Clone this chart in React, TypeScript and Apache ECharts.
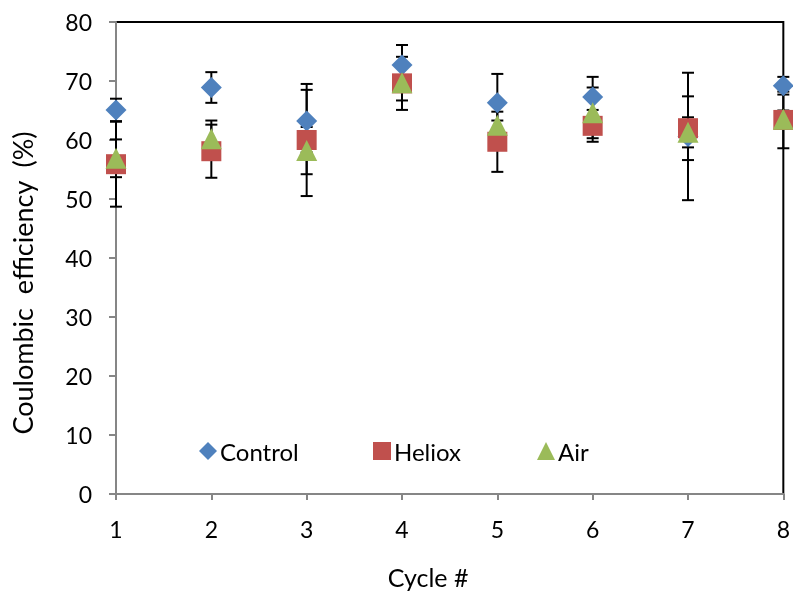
import React, { useEffect, useRef } from "react";
import * as echarts from "echarts";

const cycles = [1, 2, 3, 4, 5, 6, 7, 8];
const controlVals = [65.1, 68.9, 63.2, 72.7, 66.3, 67.3, 60.6, 69.2];
const controlErr = [1.9, 2.6, 5.3, 3.4, 4.9, 3.4, 10.8, 1.5];
const helioxVals = [55.9, 58.1, 60.0, 69.6, 59.7, 62.4, 62.0, 63.4];
const helioxErr = [7.2, 4.5, 9.5, 4.5, 5.1, 2.7, 5.4, 4.8];
const airVals = [56.9, 60.2, 58.2, 69.7, 62.5, 64.6, 61.3, 63.5];
const airErr = [3.2, 3.1, 4.0, 3.0, 0.8, 4.3, 2.55, 1.5];
const yTicks = [0, 10, 20, 30, 40, 50, 60, 70, 80];

const FONT = "Lato, 'Liberation Sans Narrow', sans-serif";

function errSeries(name: string, vals: number[], errs: number[]) {
  return {
    type: "custom",
    name: name + " err",
    z: 1,
    silent: true,
    data: cycles.map((c, i) => [c, vals[i] - errs[i], vals[i] + errs[i]]),
    renderItem: (params: any, api: any) => {
      const x = api.value(0);
      const lo = api.coord([x, api.value(1)]);
      const hi = api.coord([x, api.value(2)]);
      const hw = 6;
      const style = { stroke: "#000", lineWidth: 2 };
      return {
        type: "group",
        children: [
          { type: "line", shape: { x1: lo[0], y1: lo[1], x2: hi[0], y2: hi[1] }, style },
          { type: "line", shape: { x1: lo[0] - hw, y1: lo[1], x2: lo[0] + hw, y2: lo[1] }, style },
          { type: "line", shape: { x1: hi[0] - hw, y1: hi[1], x2: hi[0] + hw, y2: hi[1] }, style },
        ],
      };
    },
  };
}

export default function App() {
  const ref = useRef<HTMLDivElement>(null);
  useEffect(() => {
    if (!ref.current) return;
    const chart = echarts.init(ref.current, null, { renderer: "svg" });
    const legendBase = {
      top: 434,
      itemWidth: 18,
      itemHeight: 18,
      itemGap: 4,
      textStyle: { fontFamily: FONT, fontSize: 24, color: "#000", padding: [0, 0, 0, -2] },
    };
    chart.setOption({
      animation: false,
      textStyle: { fontFamily: FONT },
      grid: {
        left: 116,
        right: 9,
        top: 22,
        bottom: 100,
        show: true,
        borderColor: "#000",
        borderWidth: 2,
        backgroundColor: "transparent",
      },
      legend: [
        { ...legendBase, left: 194, data: [{ name: "Control", icon: "diamond" }] },
        { ...legendBase, left: 368, data: [{ name: "Heliox", icon: "rect" }] },
        { ...legendBase, left: 532, data: [{ name: "Air", icon: "triangle" }] },
      ],
      graphic: [
        {
          type: "text",
          x: 428,
          y: 577,
          style: {
            text: "Cycle #",
            fontFamily: FONT,
            fontSize: 25,
            fill: "#000",
            align: "center",
            verticalAlign: "middle",
          },
        },
        {
          type: "text",
          x: 22,
          y: 283,
          rotation: Math.PI / 2,
          style: {
            text: "Coulombic  efficiency  (%)",
            fontFamily: FONT,
            fontSize: 27,
            fill: "#000",
            align: "center",
            verticalAlign: "middle",
          },
        },
      ],
      xAxis: {
        type: "value",
        min: 1,
        max: 8,
        interval: 1,
        axisLine: { show: true, lineStyle: { color: "#868686", width: 2 } },
        axisTick: { show: true, length: 6, lineStyle: { color: "#868686", width: 2 } },
        axisLabel: { fontFamily: FONT, fontSize: 23, color: "#000", margin: 23 },
        splitLine: { show: false },
      },
      yAxis: {
        type: "value",
        min: yTicks[0],
        max: yTicks[yTicks.length - 1],
        interval: 10,
        axisLine: { show: true, lineStyle: { color: "#868686", width: 2 } },
        axisTick: { show: true, length: 7, lineStyle: { color: "#868686", width: 2 } },
        axisLabel: { fontFamily: FONT, fontSize: 23, color: "#000", margin: 24 },
        splitLine: { show: false },
      },
      series: [
        errSeries("Control", controlVals, controlErr),
        errSeries("Heliox", helioxVals, helioxErr),
        errSeries("Air", airVals, airErr),
        {
          type: "scatter",
          name: "Control",
          z: 3,
          symbol: "diamond",
          symbolSize: [21, 21],
          itemStyle: { color: "#4F81BD", opacity: 1 },
          data: cycles.map((c, i) => [c, controlVals[i]]),
        },
        {
          type: "scatter",
          name: "Heliox",
          z: 4,
          symbol: "rect",
          symbolSize: [20, 20],
          itemStyle: { color: "#C0504D", opacity: 1 },
          data: cycles.map((c, i) => [c, helioxVals[i]]),
        },
        {
          type: "scatter",
          name: "Air",
          z: 5,
          symbol: "triangle",
          symbolSize: [21, 21],
          itemStyle: { color: "#9BBB59", opacity: 1 },
          data: cycles.map((c, i) => [c, airVals[i]]),
        },
      ],
    });
    return () => chart.dispose();
  }, []);
  return <div ref={ref} style={{ width: 793, height: 594, position: "fixed", left: 0, top: 0 }} />;
}
